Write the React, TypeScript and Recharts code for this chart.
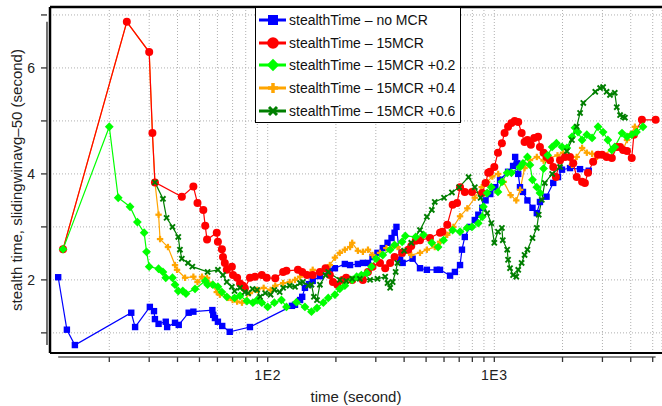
import { LineChart, Line, XAxis, YAxis, CartesianGrid, ReferenceLine, Legend } from "recharts";

// [time (s), stealth time (s)]
const noMcr: [number, number][] = [
  [11.9, 2.05], [13.0, 1.06], [14.1, 0.77], [25, 1.38], [26, 1.11], [30.2, 1.49], [31.5, 1.41], [31.8, 1.26],
  [33, 1.17], [35.5, 1.21], [36, 1.11], [39, 1.19], [40.5, 1.15], [44.8, 1.38], [47, 1.4], [57, 1.43],
  [57.5, 1.34], [58.5, 1.28], [60.3, 1.21], [63, 1.13], [68, 1.02], [83.5, 1.11], [128, 1.51], [132, 1.53],
  [139, 1.62], [142, 1.68], [146, 1.85], [152, 1.92], [158, 1.98], [170, 2.07], [188, 2.17], [198, 2.22],
  [219, 2.3], [231, 2.28], [250, 2.3], [263, 2.32], [277, 2.32], [290, 2.43], [305, 2.51], [322, 2.6],
  [338, 2.7], [352, 2.79], [363, 2.89], [370, 3.0], [384, 2.38], [394, 2.32], [436, 2.4], [470, 2.22],
  [504, 2.19], [557, 2.19], [576, 2.19], [638, 2.08], [670, 2.15], [706, 2.28], [720, 2.57], [741, 2.81],
  [781, 3.0], [820, 3.13], [850, 3.23], [885, 3.36], [915, 3.5], [960, 3.62], [1010, 3.75], [1060, 3.89],
  [1150, 4.04], [1210, 4.15], [1236, 4.32], [1262, 4.2], [1275, 4.0], [1298, 3.75], [1338, 3.66], [1400, 3.5],
  [1474, 3.36], [1540, 3.26], [1590, 3.47], [1700, 3.57], [1820, 3.83], [1910, 3.94], [1990, 4.08], [2158, 4.11],
  [2389, 4.09], [2610, 4.06],
];

const mcr15: [number, number][] = [
  [12.5, 2.58], [23.9, 6.87], [30, 6.3], [31, 4.77], [31.8, 3.84], [41.8, 3.57], [47, 3.76], [49, 3.45],
  [52, 3.32], [53, 3.02], [54, 2.76], [59.6, 2.89], [60.3, 2.72], [62.8, 2.58], [63.5, 2.43], [64.7, 2.32],
  [66, 2.19], [69.5, 2.25], [70.3, 2.09], [73.3, 2.04], [75.5, 1.93], [77.7, 1.89], [79.3, 1.84], [83.5, 2.04],
  [87.9, 2.06], [94.2, 2.09], [99, 2.04], [108, 2.03], [117, 2.15], [121, 2.17], [136, 2.19], [142, 2.15],
  [149, 2.09], [158, 2.09], [170, 2.15], [180, 2.22], [188, 2.09], [194, 1.96], [203, 1.91], [214, 2.0],
  [222, 2.04], [236, 2.0], [263, 2.0], [277, 2.15], [290, 2.25], [313, 2.32], [330, 2.22], [347, 2.32],
  [363, 2.43], [392, 2.51], [417, 2.57], [430, 2.64], [450, 2.74], [470, 2.75], [520, 2.79], [576, 2.89],
  [590, 2.91], [620, 3.04], [655, 3.42], [685, 3.45], [706, 3.75], [741, 3.66], [797, 3.66], [885, 3.64],
  [915, 3.83], [940, 4.02], [957, 4.04], [1000, 4.13], [1038, 4.4], [1080, 4.58], [1110, 4.77], [1150, 4.89],
  [1190, 4.96], [1230, 5.0], [1275, 4.98], [1320, 4.77], [1360, 4.6], [1400, 4.64], [1450, 4.55], [1500, 4.68],
  [1560, 4.7], [1590, 4.51], [1650, 4.4], [1700, 4.32], [1760, 4.26], [1820, 4.13], [1870, 3.94], [1950, 4.26],
  [2050, 4.32], [2158, 4.32], [2230, 4.2], [2310, 3.94], [2440, 3.85], [2510, 3.83], [2590, 4.02], [2730, 4.23],
  [2870, 4.36], [2990, 4.36], [3130, 4.32], [3300, 4.3], [3470, 4.51], [3590, 4.51], [3700, 4.45], [3850, 4.43],
  [4040, 4.3], [4130, 4.74], [4480, 5.02], [5150, 5.02],
];

const mcr15p2: [number, number][] = [
  [12.5, 2.58], [20, 4.89], [21.9, 3.55], [24.7, 3.38], [26.6, 3.09], [28.5, 2.89], [29.2, 2.53], [30, 2.25],
  [33, 2.21], [34.5, 2.15], [35.5, 2.04], [38, 2.04], [39, 1.91], [40.3, 1.79], [42.2, 1.79], [43.6, 1.74],
  [47.8, 1.83], [53, 1.98], [54.3, 1.91], [57.3, 1.91], [60.3, 1.87], [62.8, 1.77], [66, 1.68], [71.4, 1.66],
  [75.5, 1.7], [81, 1.6], [86, 1.57], [89.8, 1.62], [94.2, 1.57], [100, 1.49], [107, 1.57], [115, 1.62],
  [121, 1.49], [134, 1.58], [146, 1.49], [156, 1.4], [165, 1.47], [176, 1.57], [185, 1.66], [198, 1.72],
  [208, 1.83], [219, 1.89], [236, 2.0], [247, 2.06], [259, 2.09], [274, 2.13], [287, 2.25], [301, 2.4],
  [322, 2.47], [347, 2.57], [363, 2.66], [392, 2.72], [405, 2.83], [450, 2.81], [487, 2.85], [530, 2.7],
  [565, 2.62], [597, 2.75], [655, 2.94], [706, 2.91], [758, 2.98], [797, 3.0], [850, 3.07], [885, 3.19],
  [895, 3.38], [930, 3.64], [970, 3.75], [1038, 3.66], [1080, 3.85], [1140, 4.02], [1190, 4.02], [1298, 4.13],
  [1338, 4.2], [1400, 4.32], [1437, 4.17], [1474, 3.89], [1540, 3.75], [1590, 3.64], [1650, 4.1], [1720, 4.35],
  [1800, 4.51], [1880, 4.58], [1990, 4.51], [2090, 4.49], [2200, 4.7], [2270, 4.87], [2340, 4.79], [2440, 4.64],
  [2560, 4.74], [2700, 4.68], [2870, 4.89], [3020, 4.79], [3170, 4.64], [3300, 4.45], [3400, 4.51], [3660, 4.77],
  [3850, 4.7], [4040, 4.74], [4240, 4.79], [4530, 4.89],
];

const mcr15p4: [number, number][] = [
  [12.5, 2.58], [23.9, 6.87], [30, 6.3], [31, 4.77], [31.8, 3.84], [33, 3.23], [33.5, 2.77], [36.3, 2.62],
  [39, 2.28], [39.8, 2.19], [43.2, 2.04], [47, 2.06], [49, 1.96], [51.3, 2.06], [54, 2.04], [56.8, 1.91],
  [59.6, 1.77], [61.5, 1.72], [66.9, 1.66], [70, 1.62], [73.3, 1.59], [77, 1.57], [83.5, 1.75], [89.8, 1.81],
  [96, 1.85], [103, 1.81], [108, 1.89], [117, 1.94], [125, 1.96], [132, 2.0], [139, 2.06], [149, 2.11],
  [158, 2.19], [170, 2.15], [180, 2.22], [188, 2.28], [198, 2.42], [208, 2.51], [219, 2.57], [231, 2.62],
  [236, 2.7], [250, 2.55], [263, 2.53], [277, 2.57], [290, 2.47], [313, 2.51], [334, 2.6], [356, 2.62],
  [374, 2.62], [394, 2.53], [430, 2.47], [470, 2.51], [504, 2.57], [546, 2.62], [576, 2.72], [620, 2.85],
  [660, 3.0], [706, 3.2], [760, 3.35], [820, 3.55], [880, 3.75], [930, 3.85], [980, 3.95], [1040, 4.0],
  [1100, 3.85], [1180, 3.6], [1250, 3.5], [1300, 3.7], [1360, 4.11], [1437, 4.26], [1540, 4.32], [1650, 4.25],
  [1760, 4.3], [1900, 4.35], [2010, 4.4], [2110, 4.32], [2200, 4.17], [2310, 4.32], [2440, 4.49], [2560, 4.4],
  [2700, 4.38], [2840, 4.32], [3000, 4.36], [3300, 4.45], [3470, 4.5], [3700, 4.45], [3850, 4.64], [4000, 4.75],
  [4170, 4.89],
];

const mcr15p6: [number, number][] = [
  [31.8, 3.84], [34.5, 3.53], [35.8, 3.17], [38, 3.0], [40.3, 2.81], [41, 2.57], [41.8, 2.4], [44.5, 2.32],
  [46.5, 2.25], [54.3, 2.15], [60.3, 2.19], [63.5, 2.09], [66, 1.96], [69.5, 1.87], [71.4, 1.79], [75.5, 1.85],
  [79.3, 1.77], [82, 1.75], [85.7, 1.83], [89.8, 1.81], [92.5, 1.68], [97.5, 1.75], [103, 1.72], [107, 1.81],
  [113, 1.77], [117, 1.85], [125, 1.89], [132, 1.87], [139, 1.94], [143, 1.96], [151, 1.89], [156, 1.91],
  [160, 1.68], [165, 1.62], [170, 1.91], [180, 2.09], [185, 2.15], [208, 2.0], [222, 1.98], [236, 2.02],
  [255, 2.02], [283, 2.0], [305, 2.02], [330, 2.06], [338, 1.94], [347, 1.85], [356, 1.96], [367, 2.15],
  [374, 2.32], [400, 2.55], [430, 2.7], [470, 2.94], [504, 3.19], [530, 3.32], [546, 3.47], [600, 3.55],
  [650, 3.65], [700, 3.75], [770, 3.94], [820, 3.75], [870, 3.55], [930, 3.26], [970, 3.07], [1000, 2.7],
  [1038, 2.91], [1080, 2.98], [1090, 2.75], [1140, 2.57], [1150, 2.38], [1173, 2.22], [1210, 2.09], [1250, 2.06],
  [1275, 2.19], [1320, 2.32], [1360, 2.47], [1400, 2.57], [1474, 2.79], [1540, 2.98], [1570, 3.23], [1620, 3.51],
  [1670, 3.83], [1800, 4.0], [1950, 4.13], [2090, 4.43], [2200, 4.64], [2310, 4.89], [2390, 5.15], [2470, 5.34],
  [2790, 5.55], [2930, 5.62], [3020, 5.64], [3130, 5.55], [3240, 5.49], [3400, 5.53], [3470, 5.26], [3590, 5.11],
  [3700, 5.08], [3770, 5.06],
];

const xTicks = [20, 30, 40, 50, 60, 70, 80, 90, 100, 200, 300, 400, 500, 600, 700, 800, 900, 1000, 2000, 3000, 4000, 5000];
const xTickLabels: Record<number, string> = { 100: "1E2", 1000: "1E3" };
const yTicks = [1, 2, 3, 4, 5, 6, 7];
const yTickLabels = [2, 4, 6];

const X_DOMAIN: [number, number] = [10.95, 5495];
const Y_DOMAIN: [number, number] = [0.62, 7.15];
// offset axis lines sit just outside the plot frame
const X_AXIS_AT = 0.545;
const Y_AXIS_AT = 10.62;

const FONT = "'Liberation Sans', Arial, Helvetica, sans-serif";

type Shape = "square" | "circle" | "diamond" | "plus" | "cross";

const series: { name: string; color: string; shape: Shape; data: [number, number][] }[] = [
  { name: "stealthTime – no MCR", color: "#0000ff", shape: "square", data: noMcr },
  { name: "stealthTime – 15MCR", color: "#ff0000", shape: "circle", data: mcr15 },
  { name: "stealthTime – 15MCR +0.2", color: "#00ff00", shape: "diamond", data: mcr15p2 },
  { name: "stealthTime – 15MCR +0.4", color: "#ffa500", shape: "plus", data: mcr15p4 },
  { name: "stealthTime – 15MCR +0.6", color: "#007f00", shape: "cross", data: mcr15p6 },
];
// red drawn over orange where they share the first points
const drawOrder = [0, 3, 1, 2, 4];

const allX = series.flatMap((s) => s.data.map((d) => d[0]));
const allY = series.flatMap((s) => s.data.map((d) => d[1]));

function marker(shape: Shape, color: string, cx: number, cy: number, s: number, key?: number) {
  switch (shape) {
    case "square":
      return <rect key={key} x={cx - s} y={cy - s} width={s * 2} height={s * 2} fill={color} />;
    case "circle":
      return <circle key={key} cx={cx} cy={cy} r={s + 0.8} fill={color} />;
    case "diamond":
      return (
        <polygon key={key} points={`${cx},${cy - s - 1.2} ${cx + s + 1.2},${cy} ${cx},${cy + s + 1.2} ${cx - s - 1.2},${cy}`} fill={color} />
      );
    case "plus":
      return (
        <g key={key} stroke={color} strokeWidth={s * 0.7}>
          <line x1={cx - s} x2={cx + s} y1={cy} y2={cy} />
          <line x1={cx} x2={cx} y1={cy - s} y2={cy + s} />
        </g>
      );
    default:
      return (
        <g key={key} stroke={color} strokeWidth={s * 0.6}>
          <line x1={cx - s * 0.8} x2={cx + s * 0.8} y1={cy - s * 0.8} y2={cy + s * 0.8} />
          <line x1={cx - s * 0.8} x2={cx + s * 0.8} y1={cy + s * 0.8} y2={cy - s * 0.8} />
        </g>
      );
  }
}

function XTick(props: any) {
  const { x, y, payload } = props;
  const label = xTickLabels[payload.value];
  return (
    <g>
      <line x1={x} x2={x} y1={y + 4} y2={y + 9} stroke="#333" strokeWidth={1.3} />
      {label && (
        <text x={x} y={y + 27} textAnchor="middle" fontSize={14} fill="#222" letterSpacing={0.6}>
          {label}
        </text>
      )}
    </g>
  );
}

function YTick(props: any) {
  const { x, y, payload } = props;
  const showLabel = yTickLabels.includes(payload.value);
  return (
    <g>
      <line x1={x - 9} x2={x - 3} y1={y} y2={y} stroke="#333" strokeWidth={1.3} />
      {showLabel && (
        <text x={x - 15} y={y + 5} textAnchor="end" fontSize={14} fill="#222">
          {payload.value}
        </text>
      )}
    </g>
  );
}

function LegendBox() {
  return (
    <div style={{ width: 204, height: 113, border: "1px solid #000", background: "#fff", paddingTop: 1 }}>
      {series.map((s) => (
        <div key={s.name} style={{ height: 22.6, display: "flex", alignItems: "center" }}>
          <svg width={33} height={22} style={{ flex: "none" }}>
            <line x1={3} x2={30} y1={11} y2={11} stroke={s.color} strokeWidth={3} />
            {marker(s.shape, s.color, 17, 11, 5)}
          </svg>
          <span style={{ fontSize: 14, color: "#111", whiteSpace: "nowrap", fontFamily: FONT }}>{s.name}</span>
        </div>
      ))}
    </div>
  );
}

export default function App() {
  return (
    <div style={{ position: "absolute", left: 0, top: 0, width: 662, height: 406, background: "#fff", fontFamily: FONT }}>
      <LineChart width={662} height={406} margin={{ top: 7, right: 0, bottom: 0, left: 0 }}>
        <CartesianGrid stroke="#b0b0b0" strokeDasharray="1 2" />
        <XAxis
          type="number"
          dataKey="0"
          scale="log"
          domain={X_DOMAIN}
          allowDataOverflow
          ticks={xTicks}
          interval={0}
          height={53}
          axisLine={false}
          tickLine={false}
          tickSize={0}
          tickMargin={0}
          tick={<XTick />}
          label={{ value: "time (second)", position: "insideBottom", offset: 4, fontSize: 15, fill: "#222" }}
        />
        <YAxis
          type="number"
          dataKey="1"
          domain={Y_DOMAIN}
          allowDataOverflow
          ticks={yTicks}
          interval={0}
          width={50}
          axisLine={false}
          tickLine={false}
          tickSize={0}
          tickMargin={0}
          tick={<YTick />}
          label={{
            value: "stealth time, slidingwinavg–50 (second)",
            angle: -90,
            position: "insideLeft",
            offset: 17,
            fontSize: 15,
            fill: "#222",
            style: { textAnchor: "middle" },
          }}
        />
        <ReferenceLine
          segment={[{ x: Math.min(...allX), y: X_AXIS_AT }, { x: Math.max(...allX), y: X_AXIS_AT }]}
          stroke="#888"
          strokeWidth={2}
          ifOverflow="visible"
        />
        <ReferenceLine
          segment={[{ x: Y_AXIS_AT, y: Math.min(...allY) }, { x: Y_AXIS_AT, y: Math.max(...allY) }]}
          stroke="#444"
          strokeWidth={1.5}
          ifOverflow="visible"
        />
        {drawOrder.map((i) => {
          const s = series[i];
          return (
            <Line
              key={s.name}
              data={s.data}
              dataKey="1"
              name={s.name}
              stroke={s.color}
              strokeWidth={1.2}
              dot={(p: any) => marker(s.shape, s.color, p.cx, p.cy, 3.2, p.index)}
              activeDot={false}
              isAnimationActive={false}
            />
          );
        })}
        <ReferenceLine y={Y_DOMAIN[1]} stroke="#000" strokeWidth={2.5} />
        <ReferenceLine y={Y_DOMAIN[0]} stroke="#000" strokeWidth={2} />
        <ReferenceLine x={X_DOMAIN[0]} stroke="#000" strokeWidth={2.5} />
        <Legend
          layout="vertical"
          align="center"
          verticalAlign="middle"
          wrapperStyle={{ left: 255, top: 7, width: 206, height: 115 }}
          content={() => <LegendBox />}
        />
      </LineChart>
    </div>
  );
}
